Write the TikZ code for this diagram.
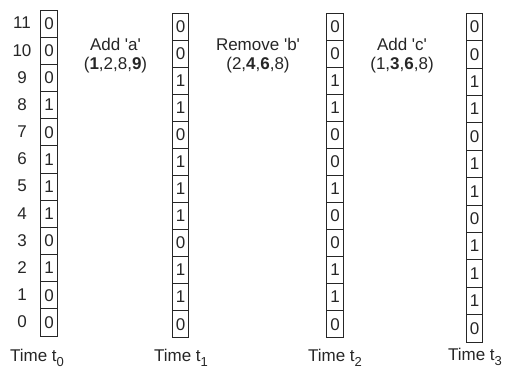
\documentclass[tikz,border=0pt]{standalone}
\usepackage{fontspec}
\newfontfamily\arialq{Liberation Sans}
\newcommand{\tsub}[1]{\raisebox{-4.5bp}{\fontsize{13bp}{13bp}\selectfont #1}}
\begin{document}
\begin{tikzpicture}[x=1bp,y=-1bp,
  every node/.style={font=\arialq\fontsize{17bp}{20bp}\selectfont, text=black!85},
  cellbox/.style={draw=black!85, line width=0.8bp, minimum width=16.5bp, inner sep=0pt, anchor=north},
  rowlab/.style={anchor=center},
  oplab/.style={anchor=center, align=center},
  timelab/.style={anchor=center}]
\useasboundingbox (0,0) rectangle (506,373);
% column data: x, top, bottom, bits from 11 down to 0
\foreach \c/\x/\top/\bot/\bits in {
  0/49/9.5/335.5/{0,0,0,1,0,1,1,1,0,1,0,0},
  1/180.5/12.7/337.3/{0,0,1,1,0,1,1,1,0,1,1,0},
  2/335/12.7/337.3/{0,0,1,1,0,0,1,0,0,1,1,0},
  3/474.5/12.7/341.7/{0,0,1,1,0,1,1,0,1,1,1,0}} {
  \pgfmathsetmacro{\h}{(\bot-\top)/12}
  \foreach \b [count=\k from 0] in \bits {
    \pgfmathtruncatemacro{\r}{11-\k}
    \node[cellbox, minimum height=\h bp] (c\c r\r) at (\x,{\top+\k*\h}) {\b};
  }
}
% row labels
\foreach \r in {0,...,11} {
  \node[rowlab] (lab\r) at (22,{9.5+(11-\r+0.5)*27.167}) {\r};
}
% operation labels
\node[oplab] (opa) at (115.5,44) {Add 'a'};
\node[oplab] (opa2) at (115.5,65) {(\textbf{1},2,8,\textbf{9})};
\node[oplab] (opb) at (258,44) {Remove 'b'};
\node[oplab] (opb2) at (258,65) {(2,\textbf{4},\textbf{6},8)};
\node[oplab] (opc) at (402,44) {Add 'c'};
\node[oplab] (opc2) at (402,65) {(1,\textbf{3},\textbf{6},8)};
% time labels
\node[timelab] (t0) at (37,358) {Time t\tsub{0}};
\node[timelab] (t1) at (181,358) {Time t\tsub{1}};
\node[timelab] (t2) at (335,358) {Time t\tsub{2}};
\node[timelab] (t3) at (475,357) {Time t\tsub{3}};
\end{tikzpicture}
\end{document}
